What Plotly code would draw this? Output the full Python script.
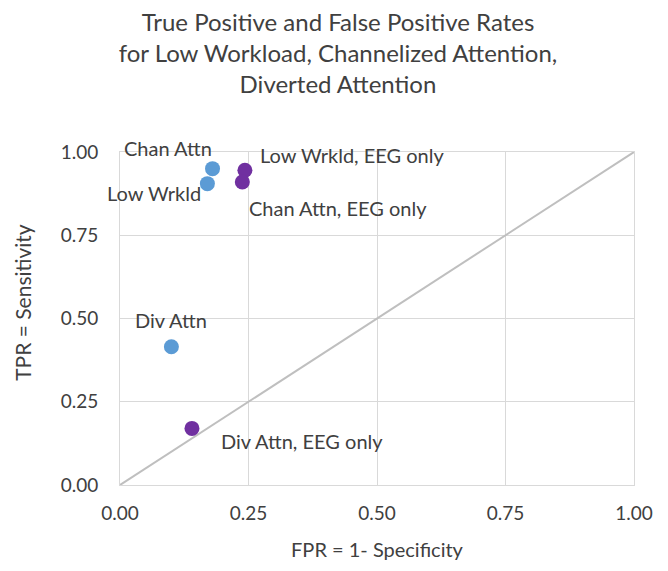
import plotly.graph_objects as go

# Data
labels_all = ["Chan Attn", "Low Wrkld", "Div Attn"]
fpr_all = [0.18, 0.17, 0.10]
tpr_all = [0.95, 0.905, 0.415]

labels_eeg = ["Low Wrkld, EEG only", "Chan Attn, EEG only", "Div Attn, EEG only"]
fpr_eeg = [0.243, 0.238, 0.14]
tpr_eeg = [0.945, 0.91, 0.17]

ref_line = [0.0, 1.0]
tick_vals = [0.0, 0.25, 0.5, 0.75, 1.0]
tick_text = ["0.00", "0.25", "0.50", "0.75", "1.00"]

BLUE = "#5B9BD5"
PURPLE = "#7030A0"
TXT = "#404040"
FONT = "Lato"

fig = go.Figure()
fig.add_trace(go.Scatter(x=ref_line, y=ref_line, mode="lines",
                         line=dict(color="#BFBFBF", width=2), hoverinfo="skip"))
fig.add_trace(go.Scatter(x=fpr_all, y=tpr_all, mode="markers",
                         marker=dict(color=BLUE, size=15)))
fig.add_trace(go.Scatter(x=fpr_eeg, y=tpr_eeg, mode="markers",
                         marker=dict(color=PURPLE, size=15)))

# label placements (x anchor, pixel shifts)
place_all = [("center", -45, 21), ("right", -4, -9), ("center", 0, 27)]
place_eeg = [("left", 13, 15), ("left", 5, -26), ("left", 27, -13)]

for lab, x, y, (xa, dx, dy) in zip(labels_all, fpr_all, tpr_all, place_all):
    fig.add_annotation(x=x, y=y, text=lab, showarrow=False, xanchor=xa, yanchor="middle",
                       xshift=dx, yshift=dy, font=dict(size=20, color=TXT, family=FONT))
for lab, x, y, (xa, dx, dy) in zip(labels_eeg, fpr_eeg, tpr_eeg, place_eeg):
    fig.add_annotation(x=x, y=y, text=lab, showarrow=False, xanchor=xa, yanchor="middle",
                       xshift=dx, yshift=dy, font=dict(size=20, color=TXT, family=FONT))

# y axis title
fig.add_annotation(xref="paper", yref="paper", x=0, y=0.547, xanchor="center", yanchor="middle",
                   xshift=-97, text="TPR = Sensitivity", textangle=-90, showarrow=False,
                   font=dict(size=21, color=TXT, family=FONT))

axis_common = dict(range=[0, 1], tickvals=tick_vals, ticktext=tick_text,
                   showgrid=True, gridcolor="#D9D9D9", gridwidth=1,
                   showline=True, linecolor="#D9D9D9", linewidth=1, mirror=True,
                   zeroline=False, tickfont=dict(size=19, color=TXT, family=FONT),
                   fixedrange=True)

fig.update_layout(
    width=660, height=563,
    margin=dict(l=112, r=34, t=144, b=86),
    paper_bgcolor="white", plot_bgcolor="white",
    showlegend=False,
    title=dict(text="True Positive and False Positive Rates<br>for Low Workload, Channelized Attention,<br>Diverted Attention",
               x=0.5, xanchor="center", y=1 - 23 / 563, yanchor="middle",
               font=dict(size=24, color=TXT, family=FONT)),
    xaxis=dict(**axis_common, ticklabelstandoff=11,
               title=dict(text="FPR = 1- Specificity", standoff=20,
                          font=dict(size=20, color=TXT, family=FONT))),
    yaxis=dict(**axis_common, ticklabelstandoff=17),
)

fig.write_html("out.html")
